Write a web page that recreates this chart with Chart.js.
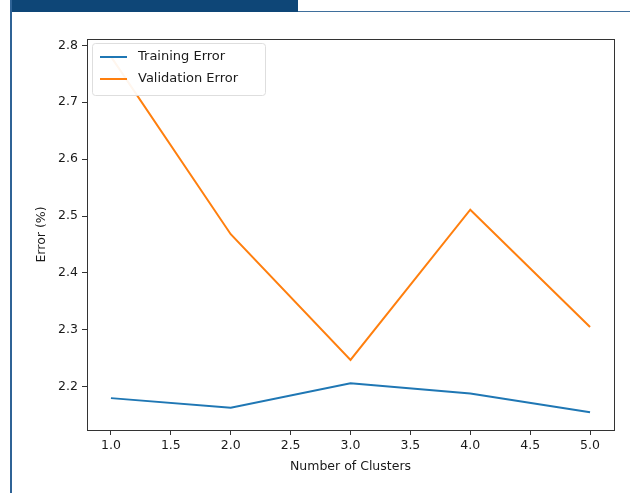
<!DOCTYPE html>
<html>
<head>
<meta charset="utf-8">
<script src="https://cdn.jsdelivr.net/npm/chart.js@4.4.0/dist/chart.umd.min.js"></script>
<style>
  body { margin: 0; background: #fff; }
  #wrap { position: relative; width: 630px; height: 493px; overflow: hidden; }
  #bar { position: absolute; left: 10px; top: 0; width: 288px; height: 12px; background: #0e4677; }
  #topline { position: absolute; left: 298px; top: 11px; right: 0; height: 1px; background: #3f6f9c; }
  #leftline { position: absolute; left: 10px; top: 0; bottom: 0; width: 2px; background: #2f6396; }
  canvas { position: absolute; left: 0; top: 0; }
</style>
</head>
<body>
<div id="wrap">
  <div id="bar"></div>
  <div id="topline"></div>
  <div id="leftline"></div>
  <canvas id="chart" width="630" height="493"></canvas>
</div>
<script>
// data
const clusters = [1, 2, 3, 4, 5];
const trainingError = [2.180, 2.163, 2.206, 2.188, 2.155];
const validationError = [2.780, 2.468, 2.247, 2.511, 2.305];
const xTicks = [1.0, 1.5, 2.0, 2.5, 3.0, 3.5, 4.0, 4.5, 5.0];
const yTicks = [2.2, 2.3, 2.4, 2.5, 2.6, 2.7, 2.8];

const font = "'DejaVu Sans', sans-serif";

// frame round the plot + legend inside the top-left corner
const frameAndLegend = {
	id: "frameAndLegend",
	afterDatasetsDraw(chart) {
		const ctx = chart.ctx;
		const a = chart.chartArea;
		ctx.save();
		// legend box
		const lx = a.left + 5, ly = a.top + 4, lw = 173, lh = 52;
		ctx.globalAlpha = 0.93;
		ctx.fillStyle = "#fff";
		ctx.strokeStyle = "#dcdcdc";
		ctx.lineWidth = 1;
		ctx.beginPath();
		ctx.roundRect(lx + 0.5, ly + 0.5, lw, lh, 3);
		ctx.fill();
		ctx.stroke();
		ctx.globalAlpha = 1;
		ctx.font = "13px " + font;
		ctx.textBaseline = "middle";
		chart.data.datasets.forEach((ds, i) => {
			const y = ly + 14 + i * 22;
			ctx.strokeStyle = ds.borderColor;
			ctx.lineWidth = 2;
			ctx.beginPath();
			ctx.moveTo(lx + 8, y);
			ctx.lineTo(lx + 35, y);
			ctx.stroke();
			ctx.fillStyle = "#1a1a1a";
			ctx.fillText(ds.label, lx + 46, y);
		});
		// spines
		ctx.strokeStyle = "#333";
		ctx.lineWidth = 1;
		ctx.strokeRect(a.left + 0.5, a.top + 0.5, a.right - a.left, a.bottom - a.top);
		ctx.restore();
	},
};

new Chart(document.getElementById("chart"), {
	type: "line",
	data: {
		datasets: [
			{
				label: "Training Error",
				data: clusters.map((c, i) => ({ x: c, y: trainingError[i] })),
				borderColor: "#1f77b4",
				borderWidth: 2,
				pointRadius: 0,
				tension: 0,
			},
			{
				label: "Validation Error",
				data: clusters.map((c, i) => ({ x: c, y: validationError[i] })),
				borderColor: "#ff7f0e",
				borderWidth: 2,
				pointRadius: 0,
				tension: 0,
			},
		],
	},
	options: {
		responsive: false,
		animation: false,
		layout: { padding: { left: 30, top: 39, right: 16, bottom: 15 } },
		plugins: {
			legend: { display: false },
			tooltip: { enabled: false },
		},
		scales: {
			x: {
				type: "linear",
				min: 0.8,
				max: 5.2,
				afterBuildTicks: (axis) => { axis.ticks = xTicks.map((v) => ({ value: v })); },
				afterFit: (axis) => { axis.height = 48; },
				grid: { drawOnChartArea: false, drawTicks: true, tickLength: 5, color: "#333" },
				border: { display: true, color: "#333" },
				ticks: {
					color: "#1a1a1a",
					font: { family: font, size: 12.5 },
					padding: 3,
					maxRotation: 0,
					callback: (v) => Number(v).toFixed(1),
				},
				title: {
					display: true,
					text: "Number of Clusters",
					color: "#1a1a1a",
					font: { family: font, size: 12.5 },
					padding: { top: 4, bottom: 4 },
				},
			},
			y: {
				type: "linear",
				min: 2.124,
				max: 2.811,
				afterBuildTicks: (axis) => { axis.ticks = yTicks.map((v) => ({ value: v })); },
				afterFit: (axis) => { axis.width = 57; },
				grid: { drawOnChartArea: false, drawTicks: true, tickLength: 5, color: "#333" },
				border: { display: true, color: "#333" },
				ticks: {
					color: "#1a1a1a",
					font: { family: font, size: 12.5 },
					padding: 4,
					callback: (v) => Number(v).toFixed(1),
				},
				title: {
					display: true,
					text: "Error (%)",
					color: "#1a1a1a",
					font: { family: font, size: 12.5 },
					padding: { top: 4, bottom: 4 },
				},
			},
		},
	},
	plugins: [frameAndLegend],
});
</script>
</body>
</html>
